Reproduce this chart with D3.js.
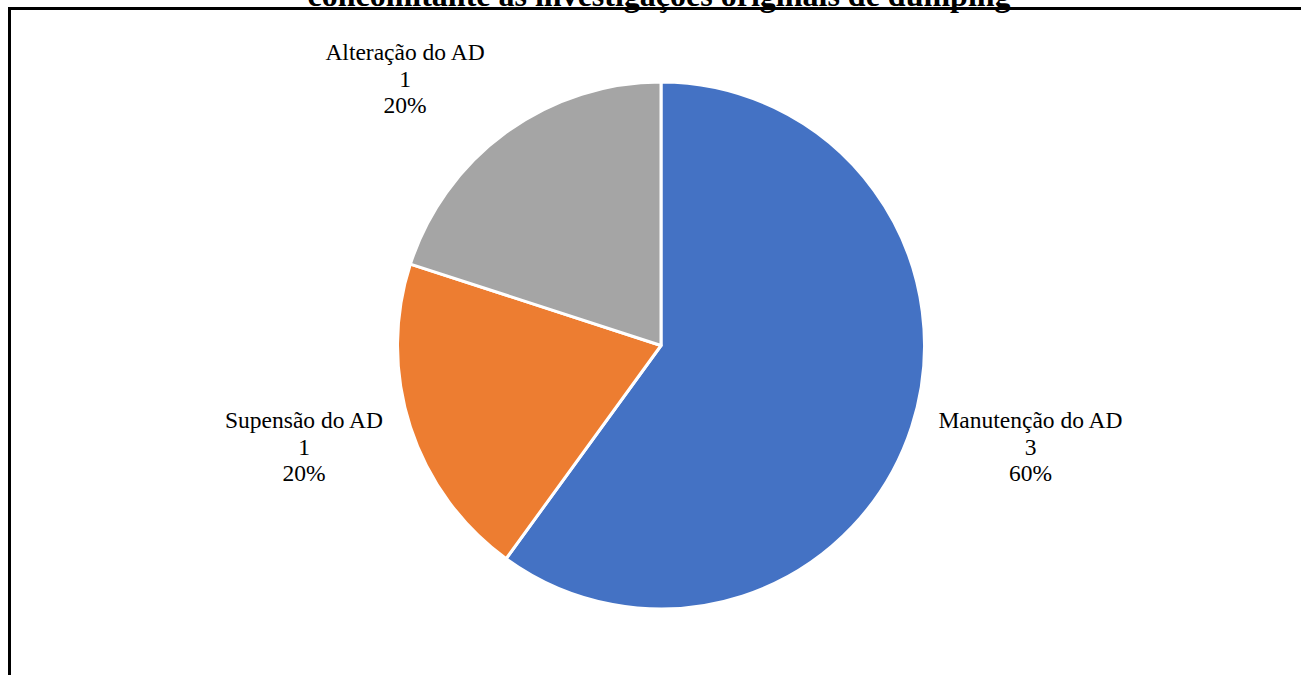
<!DOCTYPE html>
<html>
<head>
<meta charset="utf-8">
<script src="https://cdn.jsdelivr.net/npm/d3@7"></script>
<style>
  html, body { margin: 0; padding: 0; background: #fff; overflow: hidden; }
  svg { display: block; }
  text { font-family: "Liberation Serif", "Times New Roman", serif; fill: #000; }
</style>
</head>
<body>
<svg id="chart" width="1301" height="675"></svg>
<script>
// Outcomes of the reviews
const categories = ["Manutenção do AD", "Supensão do AD", "Alteração do AD"];
const counts = [3, 1, 1];
const colors = ["#4472C4", "#ED7D31", "#A5A5A5"];
const titleText = "concomitante às investigações originais de dumping";

const svg = d3.select("#chart");
const W = 1301, H = 675;

// chart frame (continues past the right and bottom edges)
svg.append("path")
  .attr("d", `M9.5,${H + 20} L9.5,8.5 L${W + 20},8.5`)
  .attr("fill", "none")
  .attr("stroke", "#000")
  .attr("stroke-width", 3);

// last line of the title, sitting at the top edge
svg.append("text")
  .attr("x", 659)
  .attr("y", 6)
  .attr("text-anchor", "middle")
  .style("font-size", "32px")
  .style("font-weight", "bold")
  .text(titleText);

const cx = 661, cy = 345.5, r = 263.5;
const total = d3.sum(counts);
const data = categories.map((c, i) => ({ name: c, value: counts[i], color: colors[i] }));

const pie = d3.pie().value(d => d.value).sort(null);
const arcs = pie(data);
const arc = d3.arc().innerRadius(0).outerRadius(r);

const g = svg.append("g").attr("transform", `translate(${cx},${cy})`);
g.selectAll("path.slice")
  .data(arcs)
  .enter().append("path")
  .attr("class", "slice")
  .attr("d", arc)
  .attr("fill", d => d.data.color)
  .attr("stroke", "#fff")
  .attr("stroke-width", 3)
  .attr("stroke-linejoin", "round");

// outside labels: name, count and share
const pct = d3.format(".0%");
const labelPos = [
  { x: 1030.5, y: 428 },
  { x: 304, y: 428 },
  { x: 405, y: 60 }
];
const lineH = 26.5;

arcs.forEach((a, i) => {
  const p = labelPos[i];
  const t = svg.append("text")
    .attr("text-anchor", "middle")
    .style("font-size", "23.5px");
  const lines = [a.data.name, String(a.data.value), pct(a.data.value / total)];
  lines.forEach((s, k) => {
    t.append("tspan").attr("x", p.x).attr("y", p.y + k * lineH).text(s);
  });
});
</script>
</body>
</html>
